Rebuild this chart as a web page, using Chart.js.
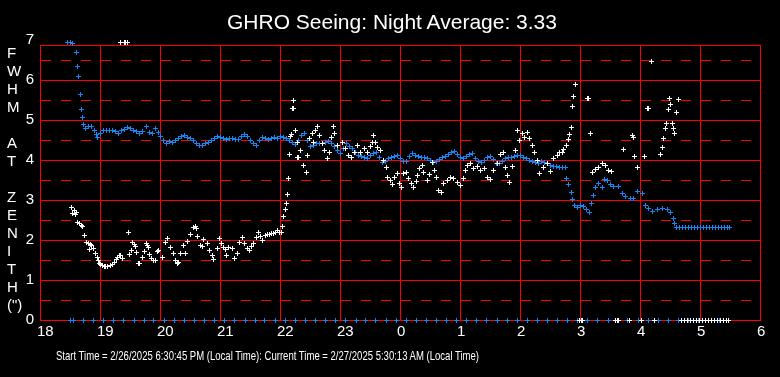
<!DOCTYPE html>
<html>
<head>
<meta charset="utf-8">
<script src="https://cdn.jsdelivr.net/npm/chart.js@4.4.1/dist/chart.umd.min.js"></script>
<style>
  html, body { margin: 0; padding: 0; background: #000; }
  #wrap { position: relative; width: 780px; height: 377px; }
  #title {
    position: absolute; left: 0; top: 9px; width: 784px; text-align: center;
    color: #fff; font: 21px "Liberation Sans", Arial, sans-serif; line-height: 26px;
  }
  #yTitle {
    position: absolute; left: 7px; top: 44px;
    color: #fff; font: 15px "Liberation Sans", Arial, sans-serif; line-height: 18px;
  }
  #footer {
    position: absolute; left: 56px; top: 348px; white-space: nowrap; transform-origin: 0 0;
    color: #fff; font: 13px "Liberation Sans Narrow", "Arial Narrow", "Liberation Sans", Arial, sans-serif; line-height: 16px;
  }
</style>
</head>
<body>
<div id="wrap">
  <canvas id="myChart" width="780" height="377"></canvas>
  <div id="title">GHRO Seeing: Night Average: 3.33</div>
  <div id="yTitle">F<br>W<br>H<br>M<br><br>A<br>T<br><br>Z<br>E<br>N<br>I<br>T<br>H<br>(")</div>
  <div id="footer"><span id="footText">Start Time = 2/26/2025 6:30:45 PM (Local Time): Current Time = 2/27/2025 5:30:13 AM (Local Time)</span></div>
</div>
<script>
// hours after 18:00 run past 24 (24 = midnight, 29.5 = 5:30 AM)

// raw seeing measurements (white)
var whiteT = [19.33, 19.4, 19.42, 19.45,
  18.52, 18.53, 18.57, 18.58, 18.6, 18.62, 18.65, 18.68, 18.7, 18.73, 18.77, 18.8, 18.82, 18.83, 18.85, 18.88,
  18.92, 18.95, 18.97, 18.98, 19.0, 19.03, 19.06, 19.08, 19.12, 19.17, 19.2, 19.23, 19.26, 19.28, 19.32, 19.34,
  19.37, 19.47, 19.48, 19.52, 19.53, 19.56, 19.58, 19.6, 19.63, 19.65, 19.7, 19.73, 19.77, 19.78, 19.8, 19.82,
  19.85, 19.88, 19.92, 19.95, 19.97, 20.03, 20.08, 20.12, 20.17, 20.22, 20.25, 20.28, 20.3, 20.33, 20.38, 20.42,
  20.45, 20.5, 20.55, 20.58, 20.6, 20.62, 20.67, 20.7, 20.72, 20.78, 20.82, 20.87, 20.88, 20.95, 20.98, 21.02,
  21.05, 21.08, 21.1, 21.13, 21.2, 21.23, 21.28, 21.32, 21.37, 21.4, 21.45, 21.48, 21.52, 21.55, 21.6, 21.63,
  21.67, 21.7, 21.75, 21.78, 21.82, 21.85, 21.88, 21.92, 21.95, 21.98, 22.02, 22.03, 22.05, 22.08, 22.1, 22.12,
  22.13, 22.15, 22.17, 22.18, 22.2, 22.21, 22.22, 22.25, 22.28, 22.29, 22.3, 22.33, 22.38, 22.43, 22.45, 22.48,
  22.53, 22.55, 22.58, 22.62, 22.65, 22.7, 22.73, 22.78, 22.82, 22.85, 22.88, 22.9, 22.95, 23.03, 23.08, 23.13,
  23.18, 23.23, 23.28, 23.33, 23.4, 23.45, 23.5, 23.53, 23.55, 23.58, 23.62, 23.67, 23.72, 23.77, 23.78, 23.83,
  23.87, 23.9, 23.95, 23.98, 24.02, 24.05, 24.1, 24.13, 24.18, 24.22, 24.27, 24.28, 24.32, 24.37, 24.38, 24.45,
  24.48, 24.53, 24.57, 24.6, 24.63, 24.68, 24.72, 24.78, 24.83, 24.88, 24.95, 25.0, 25.05, 25.08, 25.12, 25.17,
  25.22, 25.28, 25.33, 25.4, 25.45, 25.5, 25.55, 25.62, 25.67, 25.72, 25.75, 25.78, 25.82, 25.87, 25.92, 25.95,
  25.98, 26.03, 26.07, 26.12, 26.15, 26.2, 26.23, 26.28, 26.32, 26.38, 26.45, 26.5, 26.55, 26.62, 26.65, 26.7,
  26.72, 26.77, 26.8, 26.82, 26.85, 26.86, 26.88, 26.92, 27.12, 27.13, 27.17, 27.2, 27.25, 27.3, 27.37, 27.42,
  27.47, 27.52, 27.72, 27.87, 27.88, 27.9, 27.95, 28.07, 28.12, 28.13, 28.18, 28.33, 28.37, 28.38, 28.42, 28.43,
  28.47, 28.48, 28.5, 28.53, 28.55, 28.57, 28.6, 28.63,
  26.99, 27.01, 27.03, 27.59, 27.61, 27.63, 27.81, 28.02, 28.23,
  28.69, 28.74, 28.79, 28.84, 28.89, 28.94, 28.99, 29.04, 29.09, 29.14, 29.19, 29.24, 29.29, 29.34, 29.39, 29.44, 29.47];
var whiteV = [6.95, 6.95, 6.95, 6.95,
  2.83, 2.68, 2.75, 2.65, 2.7, 2.45, 2.42, 2.38, 2.35, 2.12, 1.95, 1.93, 1.77, 1.9, 1.87, 1.8,
  1.67, 1.58, 1.5, 1.43, 1.4, 1.37, 1.35, 1.35, 1.35, 1.37, 1.4, 1.45, 1.52, 1.58, 1.63, 1.62,
  1.55, 2.2, 1.65, 1.75, 1.95, 1.9, 1.85, 1.7, 1.42, 1.43, 1.58, 1.72, 1.92, 1.87, 1.82, 1.65,
  1.55, 1.5, 1.5, 1.72, 1.75, 1.58, 1.95, 2.05, 1.82, 1.67, 1.5, 1.42, 1.45, 1.67, 1.87, 1.67,
  1.97, 2.15, 2.33, 2.35, 2.3, 2.1, 1.87, 1.85, 2.02, 1.92, 1.75, 1.63, 1.52, 1.8, 2.05, 1.92,
  1.82, 1.78, 1.63, 1.82, 1.8, 1.55, 1.67, 1.95, 2.08, 1.92, 1.8, 1.75, 1.85, 1.92, 2.07, 2.2,
  2.1, 2.0, 2.12, 2.15, 2.15, 2.17, 2.17, 2.2, 2.25, 2.2, 2.2, 2.35, 2.6, 2.77, 2.93, 3.15,
  3.55, 4.15, 4.6, 4.65, 5.3, 5.5, 5.3, 4.75, 4.45, 4.08, 4.08, 4.25, 3.87, 3.7, 4.12, 4.55,
  4.67, 4.45, 4.75, 4.85, 4.62, 4.42, 4.25, 4.05, 4.2, 4.58, 4.85, 4.67, 4.37, 4.45, 4.3, 4.12,
  4.08, 4.2, 4.37, 4.2, 4.3, 4.2, 4.35, 4.45, 4.62, 4.45, 4.33, 4.25, 4.0, 3.83, 3.58, 3.5,
  3.4, 3.58, 3.67, 3.42, 3.33, 3.67, 3.7, 3.55, 3.42, 3.33, 3.48, 3.62, 3.8, 3.87, 3.7, 3.5,
  3.65, 3.95, 3.75, 3.58, 3.25, 3.2, 3.42, 3.5, 3.58, 3.55, 3.45, 3.37, 3.55, 3.75, 3.87, 3.93,
  3.8, 3.85, 3.75, 3.8, 3.58, 3.52, 3.75, 3.93, 4.15, 4.2, 3.83, 3.62, 3.45, 3.85, 4.25, 4.75,
  4.5, 4.67, 4.58, 4.7, 4.55, 4.37, 4.2, 4.0, 3.67, 3.83, 3.93, 3.73, 4.05, 4.12, 4.2, 4.2,
  4.27, 4.37, 4.52, 4.65, 4.82, 5.35, 5.6, 5.9, 5.55, 5.55, 4.67, 3.7, 3.77, 3.83, 3.93, 3.87,
  3.75, 3.73, 4.27, 4.62, 4.58, 4.1, 3.83, 4.1, 5.3, 5.3, 6.48, 4.15, 4.33, 4.55, 4.8, 4.92,
  5.27, 5.55, 5.4, 4.93, 4.8, 4.67, 5.2, 5.52,
  0, 0, 0, 0, 0, 0, 0, 0, 0,
  0, 0, 0, 0, 0, 0, 0, 0, 0, 0, 0, 0, 0, 0, 0, 0, 0];

// running average (blue)
var blueT = [18.45, 18.5, 18.53, 18.6, 18.62, 18.64, 18.66, 18.68, 18.7, 18.72, 18.75, 18.8, 18.85, 18.9, 18.93, 18.95,
  19.0, 19.05, 19.1, 19.15, 19.2, 19.25, 19.3, 19.35, 19.4, 19.45, 19.5, 19.55, 19.6, 19.65, 19.7, 19.77,
  19.82, 19.87, 19.92, 19.97, 20.0, 20.05, 20.1, 20.15, 20.2, 20.25, 20.3, 20.35, 20.4, 20.45, 20.5, 20.55,
  20.6, 20.65, 20.7, 20.75, 20.8, 20.85, 20.9, 20.95, 21.0, 21.05, 21.1, 21.15, 21.2, 21.25, 21.3, 21.35,
  21.4, 21.45, 21.5, 21.55, 21.6, 21.65, 21.7, 21.75, 21.8, 21.85, 21.9, 21.95, 22.0, 22.05, 22.1, 22.15,
  22.2, 22.25, 22.3, 22.35, 22.4, 22.45, 22.5, 22.55, 22.6, 22.65, 22.7, 22.75, 22.8, 22.85, 22.9, 22.95,
  23.0, 23.05, 23.1, 23.15, 23.2, 23.25, 23.3, 23.35, 23.4, 23.45, 23.5, 23.55, 23.6, 23.65, 23.7, 23.75,
  23.8, 23.85, 23.9, 23.95, 24.0, 24.05, 24.1, 24.15, 24.2, 24.25, 24.3, 24.35, 24.4, 24.45, 24.5, 24.55,
  24.6, 24.65, 24.7, 24.75, 24.8, 24.85, 24.9, 24.95, 25.0, 25.05, 25.1, 25.15, 25.2, 25.25, 25.3, 25.35,
  25.4, 25.45, 25.5, 25.55, 25.6, 25.65, 25.7, 25.75, 25.8, 25.85, 25.9, 25.95, 26.0, 26.05, 26.1, 26.15,
  26.2, 26.25, 26.3, 26.35, 26.4, 26.45, 26.5, 26.55, 26.6, 26.65, 26.7, 26.75, 26.77, 26.8, 26.85, 26.87,
  26.9, 26.95, 27.0, 27.05, 27.1, 27.15, 27.18, 27.22, 27.25, 27.3, 27.37, 27.4, 27.45, 27.5, 27.55, 27.63,
  27.7, 27.75, 27.83, 27.88, 27.95, 28.03, 28.08, 28.13, 28.2, 28.28, 28.37, 28.45, 28.5, 28.55, 28.57, 28.6,
  28.65, 28.7, 28.75, 28.8, 28.85, 28.9, 28.95, 29.0, 29.05, 29.1, 29.15, 29.2, 29.25, 29.3, 29.35, 29.4,
  29.45, 29.48];
var blueV = [6.95, 6.95, 6.93, 6.7, 6.35, 6.1, 5.65, 5.27, 5.07, 4.9, 4.8, 4.85, 4.85, 4.75, 4.65, 4.58,
  4.68, 4.75, 4.75, 4.75, 4.75, 4.72, 4.68, 4.75, 4.78, 4.82, 4.8, 4.75, 4.72, 4.68, 4.72, 4.85,
  4.7, 4.68, 4.8, 4.7, 4.6, 4.5, 4.43, 4.47, 4.45, 4.5, 4.55, 4.6, 4.62, 4.57, 4.55, 4.5,
  4.42, 4.38, 4.37, 4.42, 4.45, 4.5, 4.55, 4.6, 4.57, 4.55, 4.52, 4.55, 4.55, 4.52, 4.52, 4.6,
  4.65, 4.6, 4.5, 4.42, 4.37, 4.5, 4.57, 4.55, 4.52, 4.55, 4.57, 4.55, 4.6, 4.57, 4.55, 4.5,
  4.45, 4.4, 4.5, 4.62, 4.68, 4.5, 4.35, 4.38, 4.42, 4.43, 4.43, 4.45, 4.47, 4.42, 4.35, 4.25,
  4.17, 4.3, 4.43, 4.35, 4.3, 4.2, 4.12, 4.1, 4.08, 4.05, 4.12, 4.18, 4.2, 4.08, 3.95, 3.98,
  4.05, 4.08, 4.1, 4.12, 4.05, 3.98, 3.97, 4.1, 4.17, 4.12, 4.1, 4.08, 4.07, 4.05, 4.0, 3.95,
  3.97, 4.02, 4.07, 4.1, 4.15, 4.2, 4.22, 4.15, 4.08, 4.05, 4.1, 4.15, 4.17, 4.05, 3.97, 3.95,
  4.0, 4.07, 4.1, 4.02, 3.93, 3.92, 3.98, 4.05, 4.08, 4.08, 4.1, 4.12, 4.12, 4.08, 4.05, 4.0,
  3.98, 3.95, 3.93, 3.97, 3.95, 3.93, 3.88, 3.85, 3.85, 3.83, 3.83, 3.83, 3.55, 3.4, 3.2, 3.02,
  2.87, 2.82, 2.87, 2.85, 2.77, 2.7, 2.93, 3.12, 3.32, 3.42, 3.32, 3.52, 3.5, 3.4, 3.35, 3.35,
  3.17, 3.1, 3.05, 3.05, 3.22, 3.17, 2.87, 2.8, 2.73, 2.77, 2.8, 2.77, 2.7, 2.55, 2.42, 2.33,
  2.33, 2.33, 2.33, 2.33, 2.33, 2.33, 2.33, 2.33, 2.33, 2.33, 2.33, 2.33, 2.33, 2.33, 2.33, 2.33,
  2.33, 2.33];

// blue marks along the zero line
var zeroT = [18.5, 18.55, 18.72, 18.89, 19.05, 19.22, 19.39, 19.56, 19.73, 19.89, 20.06, 20.23, 20.4, 20.57,
  20.74, 20.9, 21.07, 21.24, 21.41, 21.58, 21.74, 21.91, 22.08, 22.25, 22.42, 22.58, 22.75, 22.92, 23.09,
  23.26, 23.42, 23.59, 23.76, 23.93, 24.1, 24.26, 24.43, 24.6, 24.77, 24.94, 25.1, 25.27, 25.44, 25.61,
  25.78, 25.95, 26.11, 26.28, 26.45, 26.62, 26.79, 26.95, 27.12, 27.29, 27.46, 27.63, 27.79, 27.96, 28.13,
  28.3, 28.47, 28.63, 28.8, 28.97, 29.14, 29.31, 29.47];

// y tick values: solid lines on whole numbers, dashed on halves
var yTicks = [0, 0.5, 1, 1.5, 2, 2.5, 3, 3.5, 4, 4.5, 5, 5.5, 6, 6.5, 7];

function pts(ts, vs) {
    var out = [];
    for (var i = 0; i < ts.length; i++) {
        out.push({ x: ts[i], y: vs ? vs[i] : 0 });
    }
    return out;
}

// small pixel "+" marker like the original plot
function crossMark(color) {
    var c = document.createElement('canvas');
    c.width = 5;
    c.height = 5;
    var g = c.getContext('2d');
    g.fillStyle = color;
    g.fillRect(0, 2, 5, 1);
    g.fillRect(2, 0, 1, 5);
    return c;
}

// squeeze the footer line to the narrow width of the original
var ft = document.getElementById('footText');
var fw = ft.getBoundingClientRect().width;
document.getElementById('footer').style.transform = 'scaleX(' + (423 / fw) + ')';

var FONT = '"Liberation Sans", Arial, sans-serif';
var BLUE = '#1787f5';
var whiteMark = crossMark('#ffffff');
var blueMark = crossMark(BLUE);
var ctx = document.getElementById('myChart').getContext('2d');

var crispPoints = {
    id: 'crispPoints',
    beforeDatasetsDraw: function (chart) {
        chart.ctx.imageSmoothingEnabled = false;
    }
};

var myChart = new Chart(ctx, {
    type: 'scatter',
    data: {
        datasets: [
            {
                label: 'Seeing',
                data: pts(whiteT, whiteV),
                pointStyle: whiteMark,
                pointRadius: 3,
                clip: false
            },
            {
                label: 'Average',
                data: pts(blueT, blueV),
                pointStyle: blueMark,
                pointRadius: 3,
                clip: false
            },
            {
                label: 'Zero',
                data: pts(zeroT),
                pointStyle: blueMark,
                pointRadius: 3,
                clip: false
            }
        ]
    },
    options: {
        responsive: false,
        animation: false,
        events: [],
        layout: {
            padding: { left: 0, right: 20, top: 45, bottom: 0 }
        },
        scales: {
            x: {
                type: 'linear',
                min: 18,
                max: 30,
                alignToPixels: true,
                afterFit: function (s) { s.height = 57; },
                ticks: {
                    stepSize: 1,
                    autoSkip: false,
                    maxRotation: 0,
                    align: 'start',
                    labelOffset: -3,
                    padding: 3,
                    color: '#ffffff',
                    font: { family: FONT, size: 15 },
                    callback: function (v) { return String(v % 24); }
                },
                grid: {
                    color: '#ff0000',
                    lineWidth: 1,
                    drawTicks: false
                },
                border: { color: '#ff0000' }
            },
            y: {
                type: 'linear',
                min: 0,
                max: 6.875,
                alignToPixels: true,
                afterFit: function (s) { s.width = 40; },
                afterBuildTicks: function (s) {
                    // top frame of the plot sits just under the 7 label
                    s.ticks = yTicks.map(function (v) { return { value: v }; });
                    s.ticks.splice(s.ticks.length - 1, 0, { value: 6.875 });
                },
                ticks: {
                    autoSkip: false,
                    padding: 6,
                    color: '#ffffff',
                    font: { family: FONT, size: 15 },
                    callback: function (v) { return Number.isInteger(v) ? String(v) : ''; }
                },
                grid: {
                    color: function (c) {
                        return c.tick && c.tick.value === 7 ? 'rgba(0,0,0,0)' : '#ff0000';
                    },
                    lineWidth: 1,
                    drawTicks: false
                },
                border: {
                    color: '#ff0000',
                    dash: function (c) {
                        return c.tick && c.tick.value % 1 === 0.5 ? [10, 10] : [];
                    }
                }
            }
        },
        plugins: {
            legend: { display: false },
            tooltip: { enabled: false },
            title: { display: false }
        }
    },
    plugins: [crispPoints]
});
</script>
</body>
</html>
